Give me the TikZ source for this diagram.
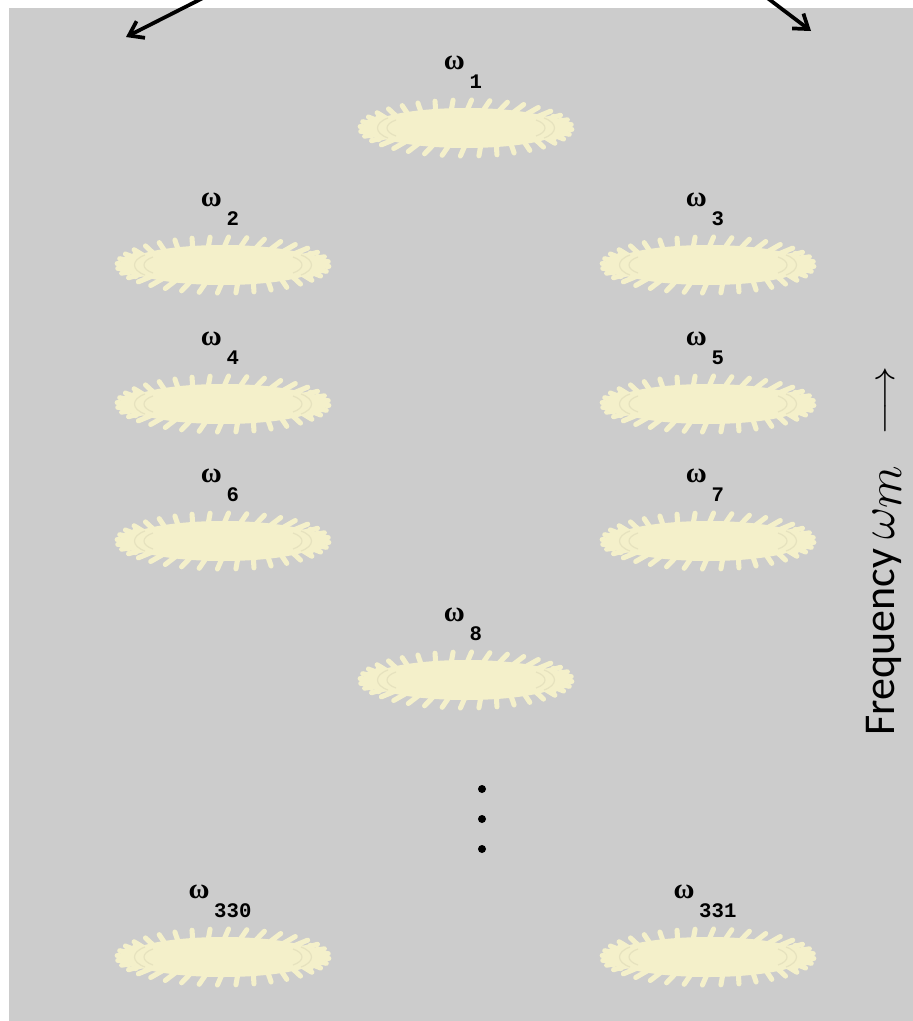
\documentclass[tikz,border=0pt]{standalone}
\usepackage{fontspec}
\usepackage{graphicx}
\setmainfont{Carlito}
\newfontfamily\labgreek{Liberation Serif}
\newfontfamily\labmono{Liberation Mono}
\usetikzlibrary{arrows.meta}

\definecolor{panel}{RGB}{204,204,204}
\definecolor{cream}{RGB}{244,240,202}
\definecolor{creamshade}{RGB}{230,226,190}

% omega label with a monospaced subscript
\newcommand{\wlab}[1]{{\labgreek\bfseries\fontsize{21.5}{24}\selectfont ω}\kern3.5pt\raisebox{-13.9pt}{\labmono\bfseries\fontsize{15.5}{17}\selectfont #1}}

\tikzset{
  bigarrow/.style={line width=2.8pt, -{Straight Barb[length=10pt,width=14pt,line width=2.8pt]}},
  spike/.style={cream, line width=3.8pt, line cap=round},
  wlabel/.style={anchor=base, inner sep=0pt, text=black},
  dot/.style={circle, fill=black, inner sep=0pt, minimum size=6pt},
  blob/.pic={
    \fill[cream] (0,0) ellipse [x radius=98, y radius=20];
    \foreach \a in {0,10,...,350}
      \draw[spike] ({88*cos(\a)},{15*sin(\a)}) -- ({106*cos(\a+3)},{28*sin(\a+3)});
    \foreach \a in {150,160,...,210,-30,-20,...,30}
      \fill[cream] ({101*cos(\a)},{22*sin(\a)}) circle (2.4pt);
    % bead rows near the two ends
    \draw[creamshade, line width=0.9pt] (-78,-10) .. controls (-92,-5) and (-92,5) .. (-78,10);
    \draw[creamshade, line width=0.9pt] (-70,-8) .. controls (-82,-4) and (-82,4) .. (-70,8);
    \draw[creamshade, line width=0.9pt] (78,-10) .. controls (92,-5) and (92,5) .. (78,10);
    \draw[creamshade, line width=0.9pt] (70,-8) .. controls (82,-4) and (82,4) .. (70,8);
  }
}

\begin{document}
\begin{tikzpicture}[x=0.75pt, y=-0.75pt]
  \useasboundingbox (0,0) rectangle (913,1021);
  \fill[white] (0,0) rectangle (913,1021);
  \fill[panel] (9,8) rectangle (913,1021);

  % pointers entering from above
  \coordinate (la0) at (203,-2);
  \coordinate (la1) at (126,37);
  \coordinate (ra0) at (767.4,-2);
  \coordinate (ra1) at (811,31);
  \draw[bigarrow] (la0) -- (la1);
  \draw[bigarrow] (ra0) -- (ra1);

  % blobs with their labels
  \foreach \cx/\cy/\k in {466/128/1, 223/265/2, 708/265/3, 223/404/4, 708/404/5,
                         223/541/6, 708/541/7, 466/680/8, 223/957/330, 708/957/331}{
    \pic at (\cx,\cy) {blob};
    \node[wlabel] (w\k) at ({\cx-3},{\cy-58.5}) {\wlab{\k}};
  }

  % vertical ellipsis
  \node[dot] (d1) at (482,789) {};
  \node[dot] (d2) at (482,819) {};
  \node[dot] (d3) at (482,849) {};

  % axis caption
  \node[rotate=90, font=\fontsize{33}{36}\selectfont, inner sep=0pt] (freq) at (884,551)
    {Frequency \scalebox{1.5}{$\omega_m$}\hspace{22pt}\scalebox{1.3}[1.1]{$\longrightarrow$}};
\end{tikzpicture}
\end{document}
